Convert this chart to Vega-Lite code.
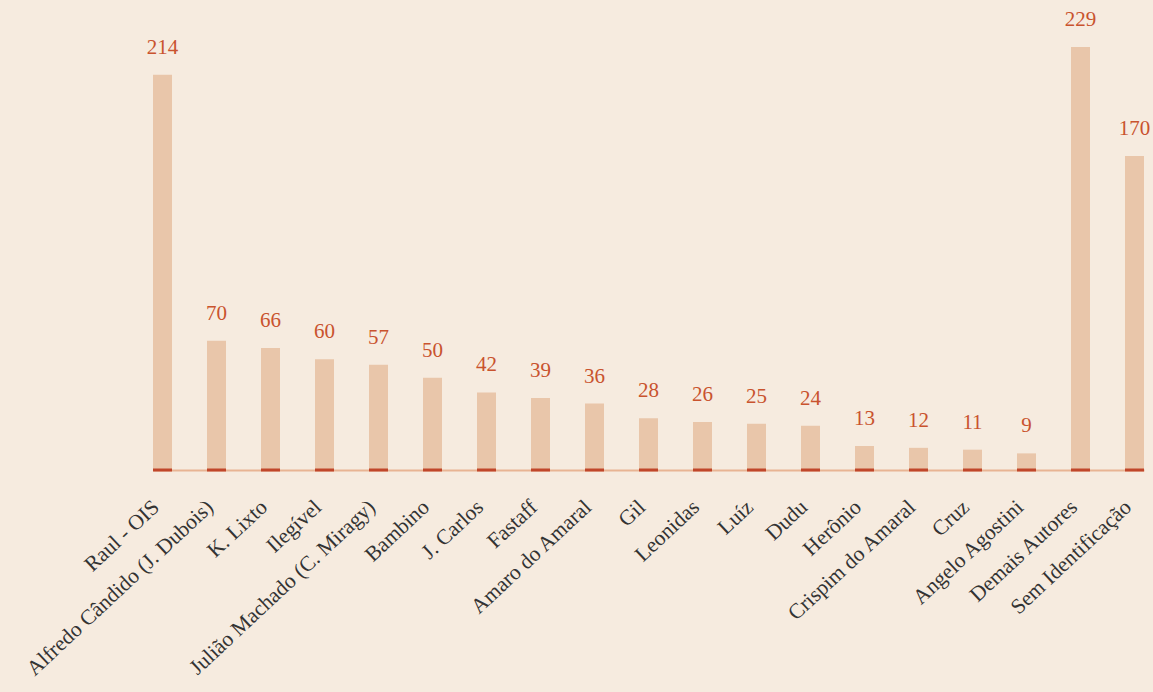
{
  "$schema": "https://vega.github.io/schema/vega-lite/v6.json",
  "autosize": {"type": "none"},
  "padding": {"left": 153, "top": 47, "right": 9, "bottom": 222},
  "width": 991,
  "height": 423,
  "background": "#f6ebdf",
  "data": {
    "values": [
      {"autor": "Raul - OIS", "charges": 214},
      {"autor": "Alfredo Cândido (J. Dubois)", "charges": 70},
      {"autor": "K. Lixto", "charges": 66},
      {"autor": "Ilegível", "charges": 60},
      {"autor": "Julião Machado (C. Miragy)", "charges": 57},
      {"autor": "Bambino", "charges": 50},
      {"autor": "J. Carlos", "charges": 42},
      {"autor": "Fastaff", "charges": 39},
      {"autor": "Amaro do Amaral", "charges": 36},
      {"autor": "Gil", "charges": 28},
      {"autor": "Leonidas", "charges": 26},
      {"autor": "Luíz", "charges": 25},
      {"autor": "Dudu", "charges": 24},
      {"autor": "Herônio", "charges": 13},
      {"autor": "Crispim do Amaral", "charges": 12},
      {"autor": "Cruz", "charges": 11},
      {"autor": "Angelo Agostini", "charges": 9},
      {"autor": "Demais Autores", "charges": 229},
      {"autor": "Sem Identificação", "charges": 170}
    ]
  },
  "encoding": {
    "x": {
      "field": "autor",
      "type": "nominal",
      "sort": null,
      "scale": {"paddingInner": 0.648, "paddingOuter": 0},
      "axis": {
        "title": null,
        "ticks": false,
        "domainColor": "#e8b493",
        "domainWidth": 2,
        "labelAngle": -43,
        "labelAlign": "right",
        "labelBaseline": "middle",
        "labelPadding": 34,
        "labelOffset": -6,
        "labelFont": "Liberation Serif",
        "labelFontSize": 21.5,
        "labelColor": "#333333",
        "labelLimit": 400
      }
    }
  },
  "layer": [
    {
      "mark": {"type": "bar", "color": "#e9c6aa"},
      "encoding": {
        "y": {"field": "charges", "type": "quantitative", "scale": {"domain": [0, 229], "nice": false}, "axis": null}
      }
    },
    {
      "mark": {"type": "tick", "color": "#c0462a", "opacity": 1, "size": 19, "thickness": 3, "orient": "horizontal"},
      "encoding": {
        "y": {"datum": 0, "type": "quantitative"}
      }
    },
    {
      "mark": {"type": "text", "dy": -21, "baseline": "alphabetic", "font": "Liberation Serif", "fontSize": 21, "color": "#c9532e"},
      "encoding": {
        "y": {"field": "charges", "type": "quantitative"},
        "text": {"field": "charges", "type": "quantitative"}
      }
    }
  ],
  "config": {"view": {"stroke": null}}
}
